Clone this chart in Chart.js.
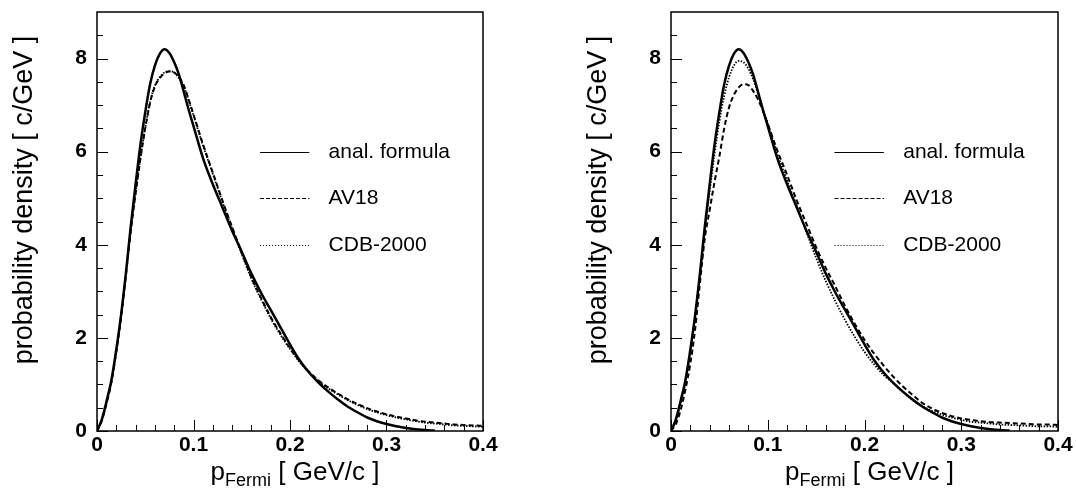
<!DOCTYPE html>
<html>
<head>
<meta charset="utf-8">
<script src="https://cdn.jsdelivr.net/npm/chart.js@4.4.1/dist/chart.umd.min.js"></script>
<style>
  body { margin: 0; background: #fff; }
  canvas { position: absolute; top: 0; }
</style>
</head>
<body>
<canvas id="left" width="538" height="495" style="left:0"></canvas>
<canvas id="right" width="538" height="495" style="left:538px"></canvas>
<script>
// momentum grid (GeV/c)
const pFermi = [0, 0.005, 0.01, 0.015, 0.02, 0.025, 0.03, 0.035, 0.04, 0.045,
  0.05, 0.055, 0.06, 0.065, 0.07, 0.075, 0.08, 0.085, 0.09, 0.095,
  0.1, 0.11, 0.12, 0.13, 0.14, 0.15, 0.16, 0.17, 0.18, 0.19,
  0.2, 0.21, 0.22, 0.23, 0.24, 0.25, 0.26, 0.27, 0.28, 0.29,
  0.3, 0.31, 0.32, 0.33, 0.34, 0.35, 0.36, 0.37, 0.38, 0.39, 0.4];

// same analytic formula in both panels
const analFormula = [0, 0.25, 0.65, 1.1, 1.75, 2.5, 3.4, 4.4, 5.3, 6.15,
  6.85, 7.45, 7.85, 8.1, 8.2, 8.12, 7.92, 7.65, 7.28, 6.9,
  6.55, 5.85, 5.3, 4.8, 4.3, 3.85, 3.38, 2.97, 2.6, 2.23,
  1.86, 1.52, 1.25, 1.03, 0.84, 0.67, 0.52, 0.4, 0.29, 0.21,
  0.15, 0.1, 0.065, 0.04, 0.02, 0.01, null, null, null, null, null];

// left panel
const av18Left = [0, 0.22, 0.6, 1.05, 1.7, 2.45, 3.35, 4.3, 5.1, 5.85,
  6.5, 7.05, 7.4, 7.58, 7.68, 7.72, 7.7, 7.6, 7.42, 7.12,
  6.8, 6.15, 5.55, 4.95, 4.38, 3.83, 3.3, 2.86, 2.45, 2.1,
  1.78, 1.5, 1.27, 1.08, 0.93, 0.8, 0.68, 0.58, 0.49, 0.42,
  0.36, 0.31, 0.27, 0.23, 0.2, 0.18, 0.16, 0.14, 0.13, 0.12, 0.11];
const cdbLeft = [0, 0.23, 0.62, 1.07, 1.72, 2.47, 3.37, 4.32, 5.12, 5.87,
  6.52, 7.07, 7.42, 7.6, 7.7, 7.73, 7.7, 7.58, 7.4, 7.1,
  6.78, 6.12, 5.52, 4.92, 4.35, 3.8, 3.27, 2.83, 2.42, 2.07,
  1.76, 1.48, 1.25, 1.06, 0.91, 0.78, 0.66, 0.56, 0.47, 0.4,
  0.34, 0.29, 0.25, 0.21, 0.18, 0.16, 0.14, 0.12, 0.11, 0.1, 0.09];

// right panel
const av18Right = [0, 0.15, 0.45, 0.9, 1.45, 2.2, 3.2, 4.15, 4.75, 5.35,
  5.9, 6.5, 6.95, 7.22, 7.38, 7.45, 7.43, 7.3, 7.12, 6.88,
  6.6, 6.02, 5.5, 4.95, 4.45, 3.95, 3.5, 3.1, 2.68, 2.3,
  1.96, 1.66, 1.4, 1.16, 0.95, 0.77, 0.6, 0.48, 0.39, 0.32,
  0.27, 0.24, 0.21, 0.19, 0.18, 0.17, 0.16, 0.15, 0.14, 0.14, 0.13];
const cdbRight = [0, 0.22, 0.6, 1.05, 1.7, 2.45, 3.35, 4.3, 5.15, 5.95,
  6.65, 7.2, 7.6, 7.85, 7.95, 7.92, 7.78, 7.55, 7.25, 6.92,
  6.6, 5.95, 5.38, 4.83, 4.27, 3.72, 3.22, 2.78, 2.38, 2.02,
  1.7, 1.43, 1.2, 1.02, 0.83, 0.66, 0.53, 0.43, 0.35, 0.29,
  0.24, 0.2, 0.18, 0.16, 0.14, 0.13, 0.12, 0.11, 0.1, 0.1, 0.09];

const xTicks = [0, 0.1, 0.2, 0.3, 0.4];
const yTicks = [0, 2, 4, 6, 8];
const legendLabels = ["anal. formula", "AV18", "CDB-2000"];

const FONT = "'Liberation Sans', Arial, Helvetica, sans-serif";

const styles = [
  { width: 2.5, dash: [] },
  { width: 2, dash: [5, 3] },
  { width: 1.8, dash: [1.5, 1.5] }
];
const legendDash = [[], [4, 2], [1, 2]];

function points(ys) {
  return pFermi.map((x, i) => ({ x: x, y: ys[i] }));
}

const framePlugin = {
  id: 'frame',
  afterDatasetsDraw(chart) {
    const ctx = chart.ctx;
    const a = chart.chartArea;
    const xs = chart.scales.x;
    const ys = chart.scales.y;
    ctx.save();
    ctx.strokeStyle = '#000';
    ctx.fillStyle = '#000';

    // inward ticks
    ctx.lineWidth = 1;
    for (let i = 0; i <= 20; i++) {
      const px = Math.round(xs.getPixelForValue(i * 0.02)) + 0.5;
      const len = i % 5 === 0 ? 11 : 6;
      ctx.beginPath();
      ctx.moveTo(px, a.bottom);
      ctx.lineTo(px, a.bottom - len);
      ctx.stroke();
    }
    for (let i = 0; i <= 17; i++) {
      const py = Math.round(ys.getPixelForValue(i * 0.5)) + 0.5;
      const len = i % 4 === 0 ? 11 : 6;
      ctx.beginPath();
      ctx.moveTo(a.left, py);
      ctx.lineTo(a.left + len, py);
      ctx.stroke();
    }

    // frame
    ctx.lineWidth = 1.5;
    ctx.strokeRect(a.left, a.top, a.right - a.left, a.bottom - a.top);

    // legend
    ctx.font = '21px ' + FONT;
    ctx.textBaseline = 'middle';
    ctx.textAlign = 'left';
    const legendY = [6, 5, 4];
    for (let i = 0; i < legendLabels.length; i++) {
      const py = Math.round(ys.getPixelForValue(legendY[i])) + 0.5;
      ctx.lineWidth = 1;
      ctx.setLineDash(legendDash[i]);
      ctx.beginPath();
      ctx.moveTo(xs.getPixelForValue(0.169), py);
      ctx.lineTo(xs.getPixelForValue(0.22), py);
      ctx.stroke();
      ctx.setLineDash([]);
      ctx.fillText(legendLabels[i], xs.getPixelForValue(0.24), py);
    }

    // y title
    ctx.save();
    ctx.translate(a.left - 72, 200);
    ctx.rotate(-Math.PI / 2);
    ctx.textAlign = 'center';
    ctx.font = '27px ' + FONT;
    ctx.fillText('probability density [ c/GeV ]', 0, 0);
    ctx.restore();

    // x title with subscript
    const main = '26px ' + FONT;
    const sub = '18px ' + FONT;
    ctx.textBaseline = 'alphabetic';
    ctx.font = main;
    const wP = ctx.measureText('p').width;
    const wRest = ctx.measureText(' [ GeV/c ]').width;
    ctx.font = sub;
    const wSub = ctx.measureText('Fermi').width;
    let x0 = (a.left + a.right) / 2 - (wP + wSub + wRest) / 2 + 5;
    const base = a.bottom + 49;
    ctx.font = main;
    ctx.fillText('p', x0, base);
    ctx.font = sub;
    ctx.fillText('Fermi', x0 + wP, base + 6);
    ctx.font = main;
    ctx.fillText(' [ GeV/c ]', x0 + wP + wSub, base);

    ctx.restore();
  }
};

function makeChart(id, series, pad) {
  return new Chart(document.getElementById(id), {
    type: 'line',
    data: {
      datasets: series.map((s, i) => ({
        label: legendLabels[i],
        data: points(s),
        borderColor: '#000',
        borderWidth: styles[i].width,
        borderDash: styles[i].dash,
        pointRadius: 0,
        fill: false,
        cubicInterpolationMode: 'monotone'
      }))
    },
    options: {
      responsive: false,
      animation: false,
      layout: { padding: pad },
      plugins: { legend: { display: false }, tooltip: { enabled: false } },
      scales: {
        x: {
          type: 'linear',
          min: 0,
          max: 0.4,
          afterBuildTicks: s => { s.ticks = xTicks.map(v => ({ value: v })); },
          afterFit: s => { s.height = 64; s.paddingLeft = 0; s.paddingRight = 0; },
          grid: { display: false },
          border: { display: false },
          ticks: {
            color: '#000',
            padding: -6,
            maxRotation: 0,
            font: { family: FONT, size: 21, weight: 'bold' },
            callback: v => String(Math.round(v * 10) / 10)
          }
        },
        y: {
          type: 'linear',
          min: 0,
          max: 9,
          afterBuildTicks: s => { s.ticks = yTicks.map(v => ({ value: v })); },
          afterFit: s => { s.width = 60; s.paddingTop = 0; s.paddingBottom = 0; },
          grid: { display: false },
          border: { display: false },
          ticks: {
            color: '#000',
            padding: 2,
            font: { family: FONT, size: 21, weight: 'bold' }
          }
        }
      }
    },
    plugins: [framePlugin]
  });
}

makeChart('left', [analFormula, av18Left, cdbLeft], { left: 37, top: 12, right: 55, bottom: 0 });
makeChart('right', [analFormula, av18Right, cdbRight], { left: 73, top: 12, right: 18, bottom: 0 });
</script>
</body>
</html>
